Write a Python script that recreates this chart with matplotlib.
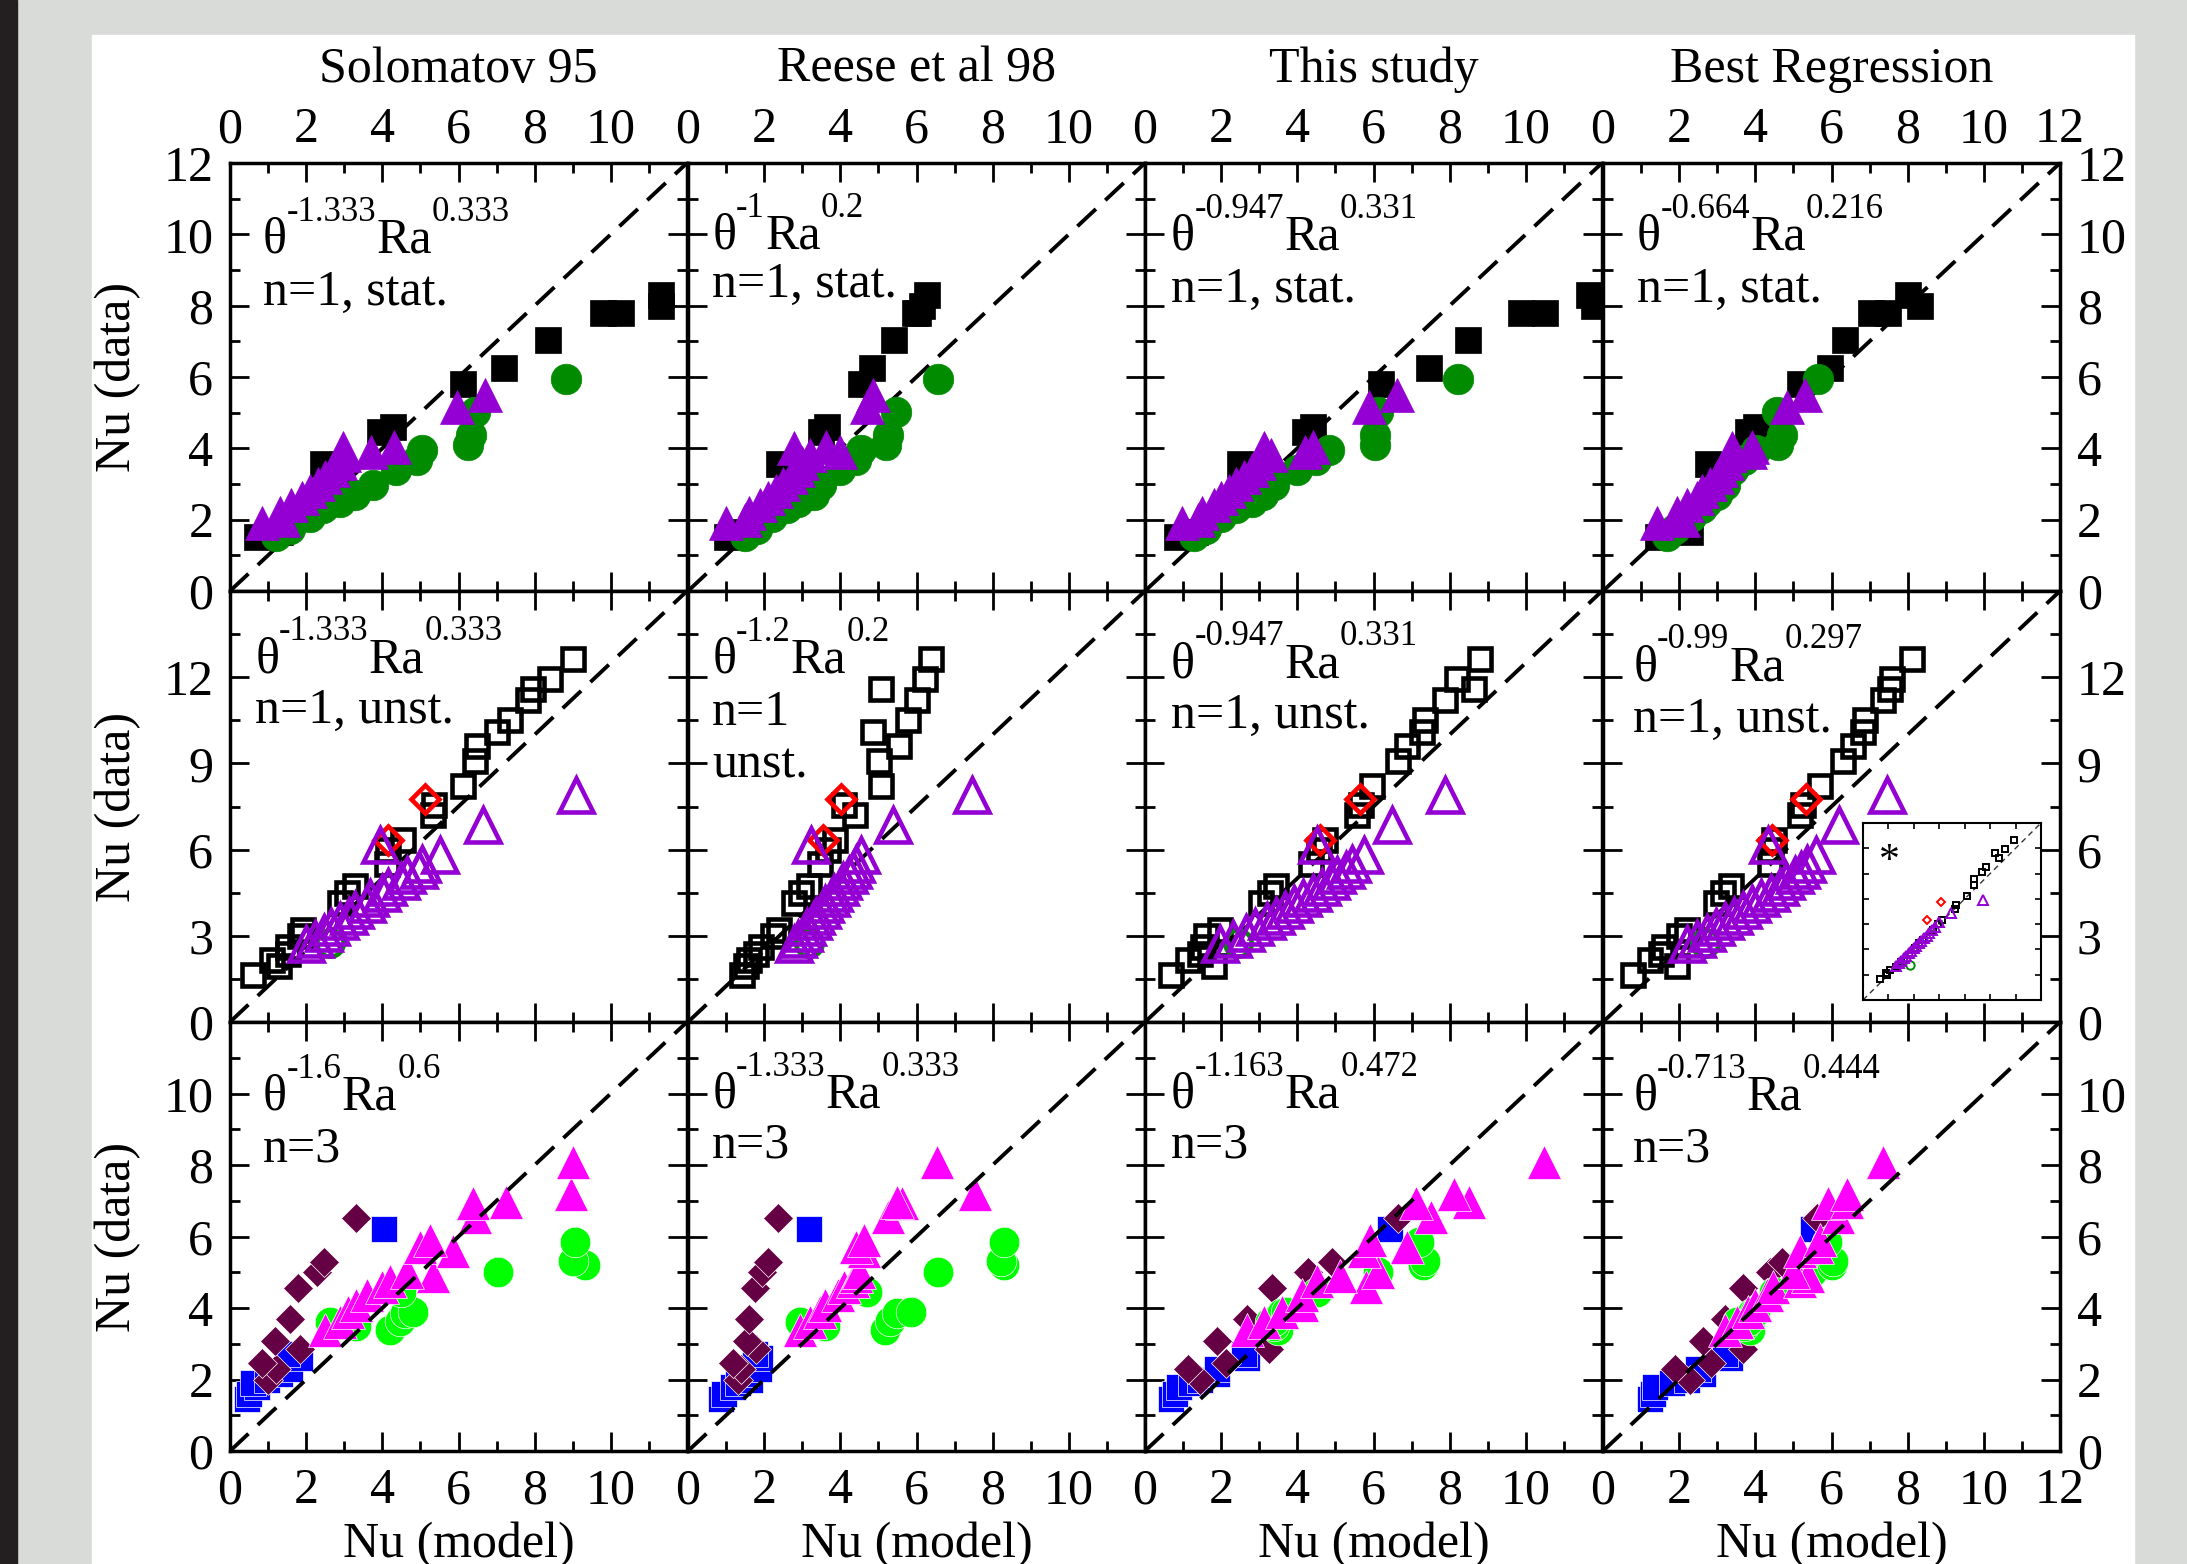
import matplotlib
matplotlib.use('Agg')
import matplotlib.pyplot as plt
from matplotlib.patches import Rectangle
from matplotlib.transforms import offset_copy

plt.rcParams['font.family'] = ['Liberation Serif', 'DejaVu Serif']

# ---------------- data ----------------
columns = ['Solomatov 95', 'Reese et al 98', 'This study', 'Best Regression']
exponents = [
    [('-1.333', '0.333'), ('-1', '0.2'), ('-0.947', '0.331'), ('-0.664', '0.216')],
    [('-1.333', '0.333'), ('-1.2', '0.2'), ('-0.947', '0.331'), ('-0.99', '0.297')],
    [('-1.6', '0.6'), ('-1.333', '0.333'), ('-1.163', '0.472'), ('-0.713', '0.444')],
]
cases = ['n=1, stat.', 'n=1, unst.', 'n=3']

# row 1: n=1, stationary (filled symbols)
r1_sq_y = [1.52, 1.66, 3.55, 4.45, 4.6, 5.8, 6.26, 7.05, 7.8, 7.8, 8.0, 8.3]
r1_sq_x1 = [0.70, 1.3, 2.45, 3.94, 4.27, 6.12, 7.19, 8.35, 9.80, 10.28, 11.31, 11.31]
r1_sq_x2 = [1.02, 1.4, 2.4, 3.5, 3.65, 4.55, 4.82, 5.42, 5.95, 6.05, 6.15, 6.27]
r1_sq_x3 = [0.83, 1.3, 2.5, 4.2, 4.4, 6.2, 7.45, 8.47, 9.88, 10.5, 11.8, 11.67]
r1_sq_x4 = [1.45, 2.28, 2.76, 3.81, 4.03, 5.17, 5.96, 6.35, 7.05, 7.49, 8.32, 8.01]

r1_ci_y = [1.55, 1.75, 2.08, 2.32, 2.5, 2.7, 2.97, 3.39, 3.67, 3.95, 4.1, 4.37, 5.03, 5.94]
r1_ci_x1 = [1.22, 1.57, 2.1, 2.45, 2.89, 3.28, 3.76, 4.37, 4.9, 5.03, 6.26, 6.34, 6.43, 8.81]
r1_ci_x2 = [1.5, 1.8, 2.2, 2.6, 2.9, 3.3, 3.5, 4.0, 4.4, 4.55, 5.2, 5.24, 5.47, 6.57]
r1_ci_x3 = [1.29, 1.6, 2.0, 2.4, 2.8, 3.1, 3.4, 4.0, 4.5, 4.82, 6.04, 6.05, 6.12, 8.22]
r1_ci_x4 = [1.67, 1.9, 2.3, 2.6, 2.72, 3.0, 3.2, 3.42, 3.7, 4.03, 4.6, 4.69, 4.56, 5.65]

r1_tr_y = [1.9, 2.0, 2.2, 2.4, 2.6, 2.8, 3.0, 3.2, 3.4, 3.6, 3.8, 3.9, 4.0, 4.05, 5.15, 5.5]
r1_tr_x1 = [0.83, 1.4, 1.3, 1.6, 1.9, 2.1, 2.3, 2.5, 2.7, 2.9, 3.0, 3.7, 2.97, 4.3, 5.95, 6.69]
r1_tr_x2 = [1.0, 1.5, 1.6, 1.9, 2.1, 2.3, 2.5, 2.7, 2.9, 3.0, 3.2, 4.0, 2.79, 3.63, 4.7, 4.86]
r1_tr_x3 = [0.98, 1.4, 1.5, 1.8, 2.0, 2.2, 2.4, 2.6, 2.8, 3.0, 3.3, 4.2, 3.13, 4.4, 5.89, 6.63]
r1_tr_x4 = [1.41, 2.1, 1.93, 2.2, 2.46, 2.6, 2.8, 3.0, 3.1, 3.25, 3.33, 3.86, 3.4, 3.9, 4.82, 5.3]

# row 2: n=1, unstationary (open symbols); xi = inset
r2_sq_y = [1.65, 1.95, 2.15, 2.35, 2.6, 3.0, 3.2, 4.15, 4.5, 4.75, 5.5, 6.0,
           6.35, 7.2, 7.55, 8.2, 9.1, 9.6, 10.1, 10.5, 11.2, 11.6, 11.95, 12.65]
r2_sq_x1 = [0.77, 1.6, 1.37, 1.9, 1.91, 2.3, 2.41, 3.6, 3.83, 4.1, 5.14, 5.2,
            5.69, 6.67, 6.7, 7.66, 8.04, 8.1, 8.75, 9.19, 9.79, 9.96, 10.5, 11.27]
r2_sq_x2 = [1.76, 1.9, 2.0, 2.23, 2.4, 2.8, 3.0, 3.48, 3.7, 3.96, 4.34, 4.6,
            4.82, 5.49, 5.11, 6.35, 6.26, 6.93, 6.06, 7.21, 7.5, 6.35, 7.78, 7.98]
r2_sq_x3 = [0.84, 2.28, 1.42, 1.8, 1.9, 2.0, 2.47, 3.8, 4.1, 4.3, 5.44, 5.7,
            5.9, 6.97, 7.1, 7.45, 8.31, 8.6, 9.08, 9.18, 9.85, 10.8, 10.23, 11.0]
r2_sq_x4 = [1.0, 2.42, 1.54, 1.9, 2.0, 2.5, 2.75, 3.7, 3.95, 4.2, 5.48, 5.5,
            5.6, 6.47, 6.58, 7.12, 7.89, 8.22, 8.54, 8.6, 9.2, 9.42, 9.5, 10.13]
r2_sq_xi = [1.32, 1.9, 1.79, 2.1, 2.58, 3.0, 3.2, 4.1, 4.4, 4.7, 5.5, 5.9,
            6.18, 7.24, 7.3, 8.16, 8.74, 8.74, 9.34, 9.68, 10.66, 10.4, 11.2, 11.84]

r2_di_y = [6.35, 7.75]
r2_di_x1 = [5.2, 6.4]
r2_di_x2 = [4.44, 5.01]
r2_di_x3 = [5.73, 7.07]
r2_di_x4 = [5.54, 6.66]
r2_di_xi = [5.0, 6.1]

r2_ci_y = [2.75]
r2_ci_x1 = [3.28]
r2_ci_x2 = [3.96]
r2_ci_x3 = [3.05]
r2_ci_x4 = [3.35]
r2_ci_xi = [3.7]

r2_tr_y = [2.7, 2.9, 3.1, 3.3, 3.5, 3.7, 3.9, 4.1, 4.3, 4.5, 4.7, 4.9, 5.1, 5.3, 5.5, 5.8, 6.15, 6.86, 7.9]
r2_tr_x1 = [2.5, 2.8, 3.1, 3.3, 3.6, 3.9, 4.1, 4.5, 4.6, 5.0, 5.2, 5.6, 5.8, 6.2, 6.3, 6.9, 4.92, 8.32, 11.36]
r2_tr_x2 = [3.48, 3.6, 3.8, 3.9, 4.1, 4.2, 4.4, 4.5, 4.7, 4.8, 5.0, 5.1, 5.3, 5.4, 5.5, 5.68, 4.05, 6.73, 9.32]
r2_tr_x3 = [2.47, 2.9, 3.3, 3.6, 4.0, 4.3, 4.6, 4.9, 5.2, 5.5, 5.8, 6.1, 6.3, 6.6, 6.8, 7.2, 5.63, 8.12, 9.85]
r2_tr_x4 = [2.75, 3.1, 3.4, 3.7, 4.0, 4.3, 4.6, 4.9, 5.2, 5.5, 5.8, 6.0, 6.3, 6.5, 6.7, 7.0, 5.43, 7.76, 9.33]
r2_tr_xi = [2.6, 2.8, 3.0, 3.2, 3.4, 3.6, 3.8, 4.0, 4.2, 4.4, 4.6, 4.8, 5.0, 5.2, 5.4, 5.7, 6.0, 6.9, 9.42]

# row 3: n=3 (filled symbols)
r3_sq_y = [1.45, 1.6, 1.8, 1.9, 2.0, 2.15, 2.3, 2.6, 2.7, 6.2]
r3_sq_x1 = [0.44, 0.5, 0.7, 0.61, 0.96, 1.31, 1.57, 1.84, 1.5, 4.05]
r3_sq_x2 = [0.87, 0.95, 1.18, 1.3, 1.64, 1.5, 1.87, 1.9, 1.75, 3.17]
r3_sq_x3 = [0.67, 0.8, 0.9, 1.2, 1.44, 1.9, 1.9, 2.67, 2.6, 6.43]
r3_sq_x4 = [1.23, 1.3, 1.36, 1.8, 2.2, 2.63, 2.5, 3.33, 3.2, 5.52]

r3_di_y = [2.0, 2.3, 2.45, 2.85, 3.08, 3.68, 4.55, 5.0, 5.3, 6.53]
r3_di_x1 = [1.0, 1.22, 0.83, 1.84, 1.18, 1.57, 1.79, 2.28, 2.47, 3.32]
r3_di_x2 = [1.3, 1.4, 1.17, 1.79, 1.56, 1.6, 1.76, 1.94, 2.1, 2.37]
r3_di_x3 = [1.44, 1.13, 2.13, 3.25, 1.9, 2.67, 3.33, 4.28, 4.9, 6.65]
r3_di_x4 = [2.28, 1.89, 2.84, 3.68, 2.63, 3.2, 3.68, 4.38, 4.69, 5.61]

r3_ci_y = [3.38, 3.5, 3.62, 3.65, 3.85, 3.9, 4.45, 5.02, 5.2, 5.32, 5.85]
r3_ci_x1 = [4.2, 3.32, 2.62, 4.46, 4.6, 4.81, 4.5, 7.04, 9.32, 9.01, 9.06]
r3_ci_x2 = [5.16, 3.6, 2.94, 5.3, 5.5, 5.85, 4.7, 6.57, 8.3, 8.23, 8.31]
r3_ci_x3 = [3.5, 3.4, 3.28, 3.4, 3.6, 3.7, 4.51, 6.12, 7.3, 7.35, 7.19]
r3_ci_x4 = [3.86, 3.7, 3.51, 3.8, 3.9, 4.0, 4.5, 5.5, 6.0, 6.05, 5.87]

r3_tr_y = [3.38, 3.62, 3.9, 4.08, 4.36, 4.6, 4.75, 4.9, 5.0, 5.6, 5.72, 5.9, 6.55, 6.93, 6.97, 7.2, 8.09]
r3_tr_x1 = [2.49, 2.89, 3.1, 3.32, 3.6, 3.98, 4.2, 5.34, 4.64, 5.86, 4.99, 5.25, 6.43, 6.39, 7.26, 8.95, 9.01]
r3_tr_x2 = [2.94, 3.2, 3.47, 3.6, 3.93, 4.1, 4.32, 4.4, 4.5, 4.62, 4.4, 4.62, 5.24, 5.62, 5.5, 7.54, 6.54]
r3_tr_x3 = [2.67, 3.13, 3.6, 4.12, 4.12, 5.81, 4.51, 5.12, 6.12, 5.74, 6.89, 5.9, 7.5, 7.12, 8.5, 8.11, 10.49]
r3_tr_x4 = [3.2, 3.51, 3.8, 4.0, 4.3, 4.47, 5.17, 5.39, 5.0, 5.17, 5.61, 5.7, 6.18, 5.92, 6.4, 6.4, 7.36]

# ---------------- styles ----------------
BLACK, GREEN, PURPLE = 'black', '#008b00', '#9400d3'
RED, BLUE, MAROON, LIME, MAGENTA = 'red', '#0000ff', '#660044', '#00ff00', '#ff00ff'

# (y, [x per column], marker, color, size, filled)
rows = [
    [(r1_sq_y, [r1_sq_x1, r1_sq_x2, r1_sq_x3, r1_sq_x4], 's', BLACK, 18.5, True),
     (r1_ci_y, [r1_ci_x1, r1_ci_x2, r1_ci_x3, r1_ci_x4], 'o', GREEN, 22, True),
     (r1_tr_y, [r1_tr_x1, r1_tr_x2, r1_tr_x3, r1_tr_x4], '^', PURPLE, 24, True)],
    [(r2_sq_y, [r2_sq_x1, r2_sq_x2, r2_sq_x3, r2_sq_x4], 's', BLACK, 16.5, False),
     (r2_di_y, [r2_di_x1, r2_di_x2, r2_di_x3, r2_di_x4], 'D', RED, 14.5, False),
     (r2_ci_y, [r2_ci_x1, r2_ci_x2, r2_ci_x3, r2_ci_x4], 'o', GREEN, 19, False),
     (r2_tr_y, [r2_tr_x1, r2_tr_x2, r2_tr_x3, r2_tr_x4], '^', PURPLE, 24, False)],
    [(r3_sq_y, [r3_sq_x1, r3_sq_x2, r3_sq_x3, r3_sq_x4], 's', BLUE, 19, True),
     (r3_di_y, [r3_di_x1, r3_di_x2, r3_di_x3, r3_di_x4], 'D', MAROON, 15.5, True),
     (r3_ci_y, [r3_ci_x1, r3_ci_x2, r3_ci_x3, r3_ci_x4], 'o', LIME, 22, True),
     (r3_tr_y, [r3_tr_x1, r3_tr_x2, r3_tr_x3, r3_tr_x4], '^', MAGENTA, 24, True)],
]
inset_series = [
    (r2_sq_y, r2_sq_xi, 's', BLACK, 5),
    (r2_di_y, r2_di_xi, 'D', RED, 4.5),
    (r2_ci_y, r2_ci_xi, 'o', GREEN, 6),
    (r2_tr_y, r2_tr_xi, '^', PURPLE, 7),
]

W, H = 2187, 1564
FS = 36
SUP_FS = 25
SUP_RAISE = 23
lims = [12, 15, 12]
x_major = [2, 2.5, 2]
x_minor = [1, 1.25, 1]
y_major = [2, 3, 2]
y_minor = [1, 1.5, 1]
col_left = [230, 688, 1145, 1603]
col_w = 457
row_top = [163, 591, 1022]
row_h = [428, 431, 429]
# text anchor (x, formula baseline, case baseline) in axes fraction
text_pos = [
    [(0.072, 0.79, 0.668), (0.053, 0.80, 0.687), (0.057, 0.797, 0.675), (0.074, 0.797, 0.675)],
    [(0.055, 0.812, 0.694), (0.053, 0.81, 0.69), (0.057, 0.80, 0.682), (0.066, 0.793, 0.673)],
    [(0.072, 0.795, 0.674), (0.053, 0.80, 0.683), (0.057, 0.80, 0.683), (0.066, 0.795, 0.674)],
]

fig = plt.figure(figsize=(W / 100, H / 100), dpi=100)
fig.patch.set_facecolor('#d8dbd8')
fig.add_artist(Rectangle((0, 0), 17 / W, 1, transform=fig.transFigure,
                         color='#231f20', zorder=-10))
fig.add_artist(Rectangle((92 / W, 0), (2134 - 92) / W, 1 - 35 / H,
                         transform=fig.transFigure, color='white', zorder=-10))
renderer = fig.canvas.get_renderer()


def fmt(v):
    return '%g' % v


def power_text(ax, tx, ty, a, b):
    # theta^a Ra^b with raised superscripts, piece by piece
    pieces = [('θ', FS, 0), (a, SUP_FS, SUP_RAISE), ('Ra', FS, 0), (b, SUP_FS, SUP_RAISE)]
    dx = 0.0
    for s, size, dy in pieces:
        tr = offset_copy(ax.transAxes, fig=fig, x=dx, y=dy, units='points')
        t = ax.text(tx, ty, s, transform=tr, fontsize=size, va='baseline',
                    ha='left', zorder=20)
        dx += t.get_window_extent(renderer).width * 72 / fig.dpi


for r in range(3):
    lim = lims[r]
    for c in range(4):
        ax = fig.add_axes([col_left[c] / W, 1 - (row_top[r] + row_h[r]) / H,
                           col_w / W, row_h[r] / H])
        ax.set_xlim(0, lim)
        ax.set_ylim(0, lim)
        # 1:1 line
        ax.plot([0, lim], [0, lim], color='black', lw=2.8,
                linestyle=(0, (6.5, 3.3)), zorder=10 if r == 2 else 1)
        for k, (y, xs, mk, col, ms, filled) in enumerate(rows[r]):
            if filled:
                edge = 'white' if r == 2 else col
                ax.plot(xs[c], y, ls='none', marker=mk, ms=ms, mfc=col,
                        mec=edge, mew=0.5, zorder=2 + k)
            else:
                ax.plot(xs[c], y, ls='none', marker=mk, ms=ms, mfc='none',
                        mec=col, mew=3.3, zorder=2 + k)

        # ticks
        xt = [i * x_major[r] for i in range(int(round(lim / x_major[r])) + 1)]
        xtm = [i * x_minor[r] for i in range(int(round(lim / x_minor[r])) + 1)]
        yt = [i * y_major[r] for i in range(int(round(lim / y_major[r])) + 1)]
        ytm = [i * y_minor[r] for i in range(int(round(lim / y_minor[r])) + 1)]
        ax.set_xticks(xt)
        ax.set_xticks(xtm, minor=True)
        ax.set_yticks(yt)
        ax.set_yticks(ytm, minor=True)
        ax.set_xticklabels([fmt(v) if (c == 3 or v < 11) else '' for v in xt])
        if r == 0:
            ylab = [fmt(v) for v in yt]
        elif r == 1:
            ylab = [fmt(v) if v < 14 else '' for v in yt]
        else:
            ylab = [fmt(v) if v < 11 else '' for v in yt]
        ax.set_yticklabels(ylab)
        ax.tick_params(which='both', direction='in', top=True, bottom=True,
                       left=True, right=True, width=2, labelsize=FS,
                       labeltop=(r == 0), labelbottom=(r == 2),
                       labelleft=(c == 0), labelright=(c == 3))
        ax.xaxis.set_tick_params(pad=7 if r == 0 else 12)
        ax.yaxis.set_tick_params(pad=12)
        ax.tick_params(which='major', length=14)
        ax.tick_params(which='minor', length=7)
        for sp in ax.spines.values():
            sp.set_linewidth(2.5)

        # annotation
        tx, ty1, ty2 = text_pos[r][c]
        a, b = exponents[r][c]
        power_text(ax, tx, ty1, a, b)
        if r == 1 and c == 1:
            ax.text(tx, ty2, 'n=1', transform=ax.transAxes, fontsize=FS,
                    va='baseline', ha='left', zorder=20)
            ax.text(tx, ty2 - 0.122, 'unst.', transform=ax.transAxes, fontsize=FS,
                    va='baseline', ha='left', zorder=20)
        else:
            ax.text(tx, ty2, cases[r], transform=ax.transAxes, fontsize=FS,
                    va='baseline', ha='left', zorder=20)

    fig.text(118 / W, 1 - (row_top[r] + row_h[r] / 2) / H, 'Nu (data)',
             rotation=90, ha='center', va='center', fontsize=FS)

for c in range(4):
    xc = (col_left[c] + col_w / 2) / W
    fig.text(xc, 1 - 82 / H, columns[c], ha='center', va='baseline', fontsize=FS)
    fig.text(xc, 1 - 1557 / H, 'Nu (model)', ha='center', va='baseline', fontsize=FS)

# inset in the "Best Regression" unstationary panel
axi = fig.add_axes([1863 / W, 1 - 1000 / H, 178 / W, 177 / H])
axi.set_xlim(0, 14)
axi.set_ylim(0, 14)
axi.plot([0, 14], [0, 14], color='#333333', lw=1, linestyle=(0, (4, 3)), zorder=1)
for k, (y, x, mk, col, ms) in enumerate(inset_series):
    axi.plot(x, y, ls='none', marker=mk, ms=ms, mfc='none', mec=col, mew=1.4, zorder=2 + k)
axi.set_xticks(range(0, 15, 2))
axi.set_yticks(range(0, 15, 2))
axi.tick_params(which='both', direction='in', top=True, right=True, length=4,
                width=1.2, labelbottom=False, labelleft=False)
for sp in axi.spines.values():
    sp.set_linewidth(1.5)
axi.text(0.15, 0.78, '*', transform=axi.transAxes, fontsize=30,
         ha='center', va='center')

fig.savefig('out.png', dpi=100, facecolor=fig.get_facecolor())
